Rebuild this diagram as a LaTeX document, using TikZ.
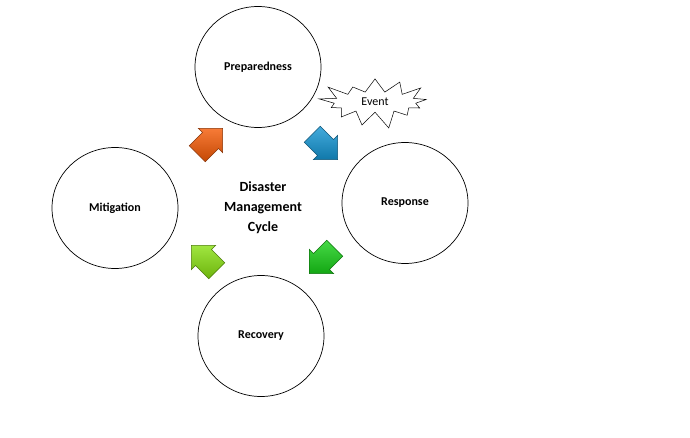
\documentclass[tikz,border=0pt]{standalone}
\usepackage{fontspec}
\setmainfont{Carlito}
\usetikzlibrary{shapes.geometric,shapes.arrows,shapes.symbols,positioning}

\definecolor{prepOrange}{HTML}{F55A05}
\definecolor{respBlue}{HTML}{1496D4}
\definecolor{recGreen}{HTML}{18D018}
\definecolor{mitLime}{HTML}{88E010}

\begin{document}
\begin{tikzpicture}[x=1pt,y=1pt,
  phase/.style={ellipse,draw,line width=0.7pt,minimum width=126pt,minimum height=121pt,
    font=\bfseries\fontsize{12}{14}\selectfont},
  flow/.style={single arrow,draw=#1!55!black,line width=0.5pt,inner sep=11pt,
    minimum height=36pt,single arrow head extend=6pt,
    top color=#1!80!white,bottom color=#1!80!black,shading angle=0}]
  \useasboundingbox (0,0) rectangle (690,437);

  % the four phases
  \node[phase] (prep) at (258,370) {Preparedness};
  \node[phase] (resp) at (405,234) {Response};
  \node[phase] (rec)  at (261,101) {Recovery};
  \node[phase] (mit)  at (115,229) {Mitigation};

  \node[align=center,font=\bfseries\fontsize{14}{20}\selectfont] (cycle) at (263,229)
    {Disaster\\Management\\Cycle};

  \node[starburst,draw,line width=0.5pt,minimum width=118pt,minimum height=40pt,
    starburst point height=18pt,starburst points=13,random starburst=21,
    font=\fontsize{12}{14}\selectfont] (event) at (375,335) {Event};

  % arrows between the phases
  \node[flow=prepOrange,rotate=45]  (a1) at (206,292) {};
  \node[flow=respBlue,rotate=-45]   (a2) at (321,294) {};
  \node[flow=recGreen,rotate=225]   (a3) at (326,180) {};
  \node[flow=mitLime,rotate=135]    (a4) at (208,175) {};
\end{tikzpicture}
\end{document}
